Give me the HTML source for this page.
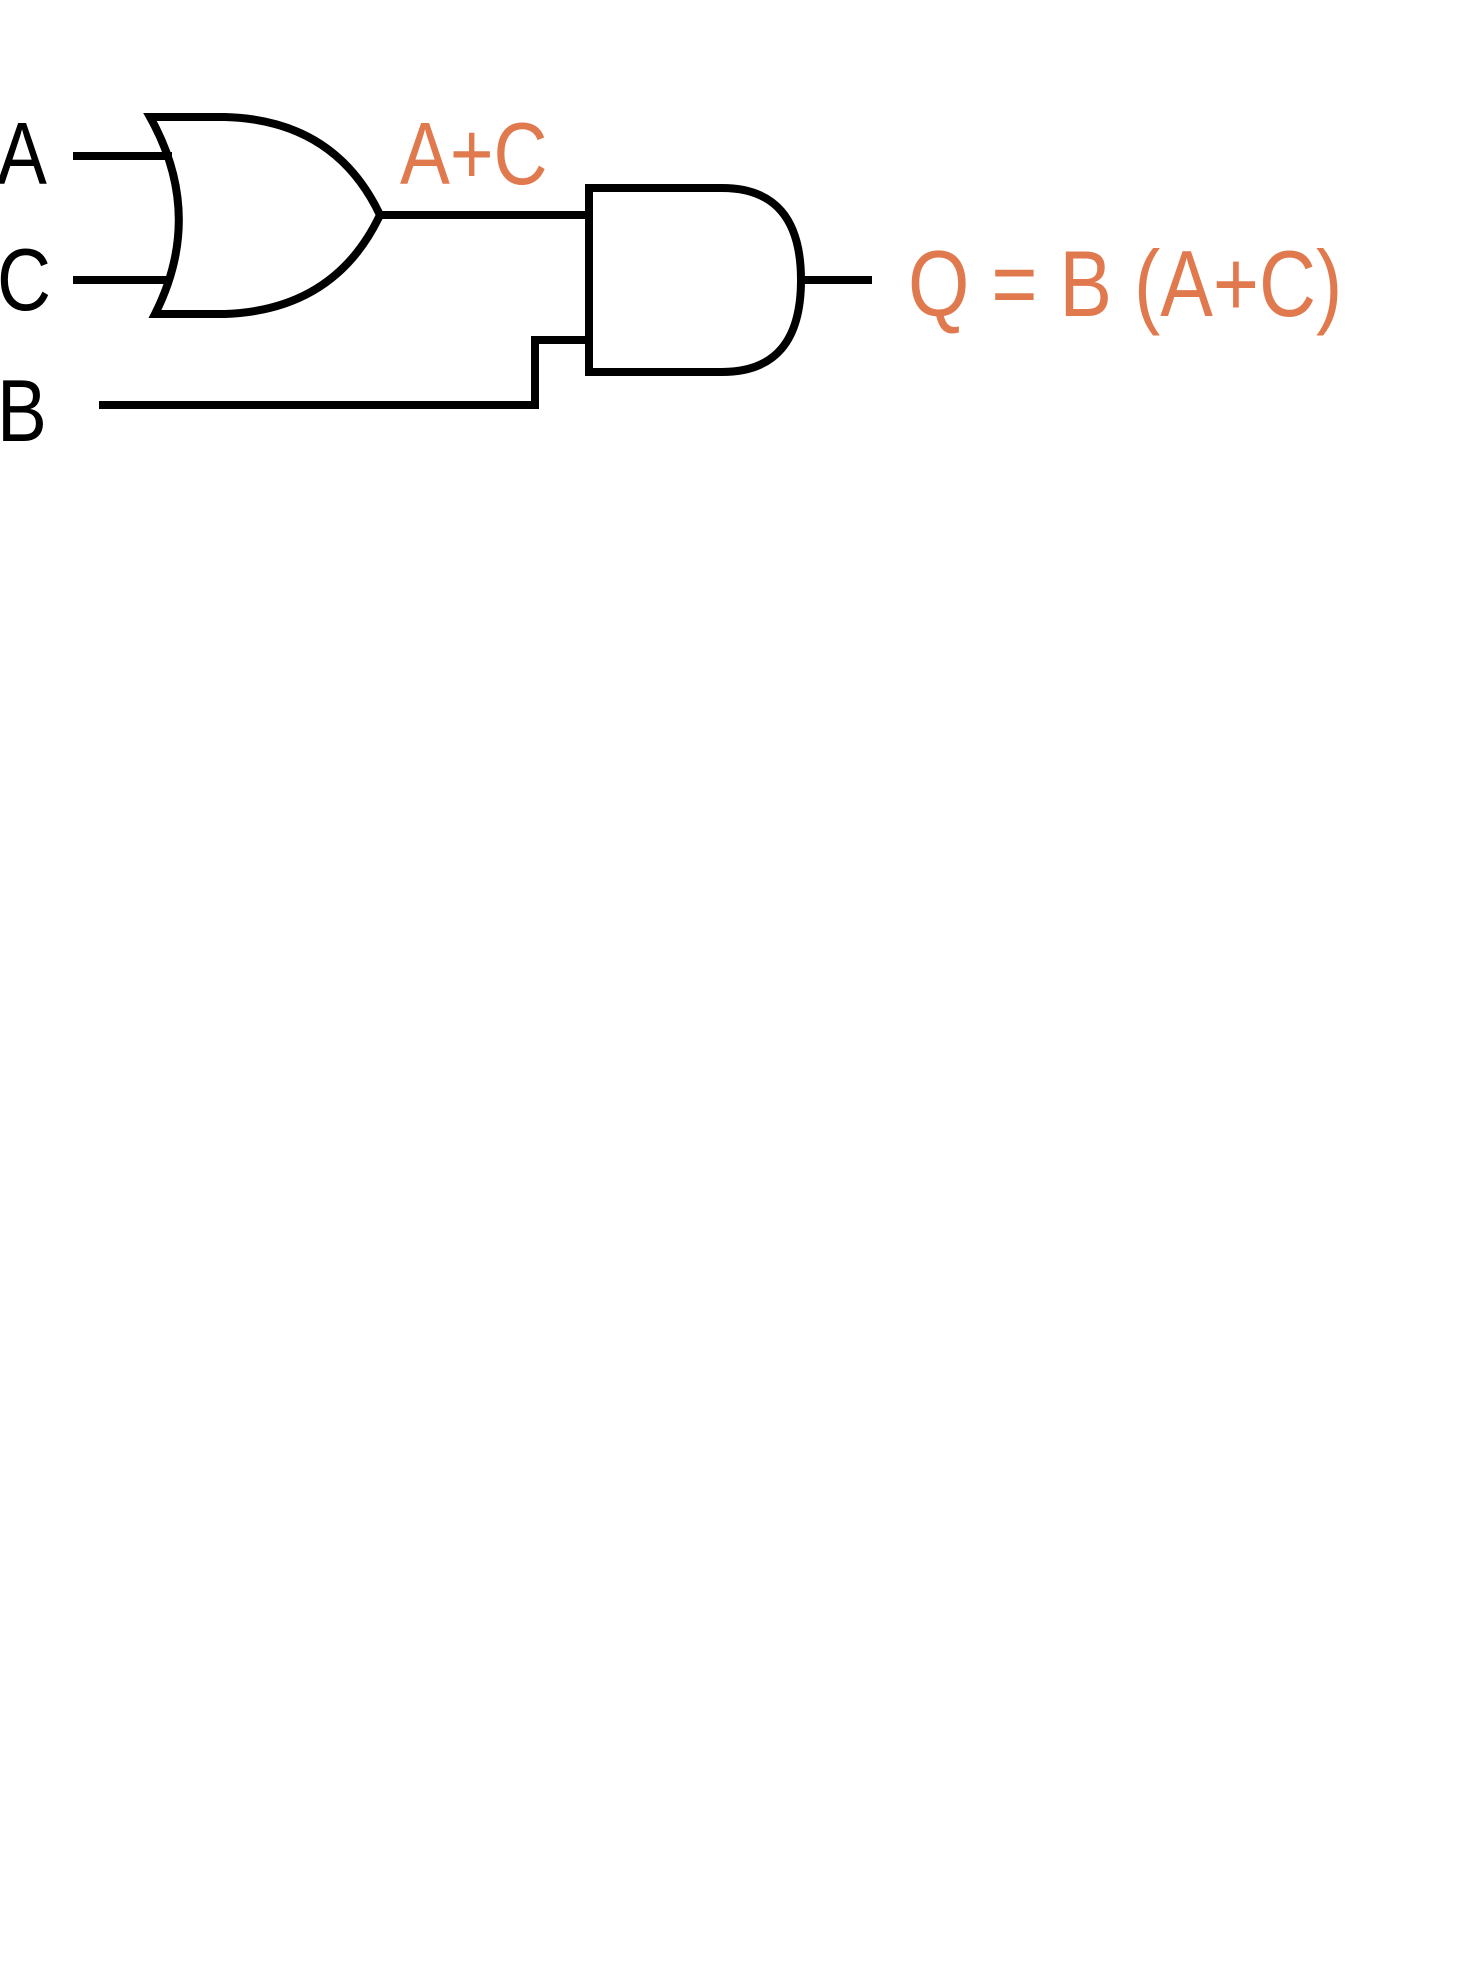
<!DOCTYPE html>
<html><head><style>body{margin:0;background:#fff}svg{display:block}</style></head>
<body>
<svg width="1470" height="1968" viewBox="0 0 1470 1968" xmlns="http://www.w3.org/2000/svg">
<g font-family="Liberation Sans, sans-serif" font-size="88">
<text transform="translate(-3 184) scale(0.85 1)" fill="#000">A</text>
<text transform="translate(-3 310) scale(0.85 1)" fill="#000">C</text>
<text transform="translate(-3 441) scale(0.85 1)" fill="#000">B</text>
<text transform="translate(400 184) scale(0.85 1)" fill="#e07a4e">A+C</text>
<text transform="translate(908 316) scale(0.84 1)" fill="#e07a4e" font-size="94">Q = B (A+C)</text>
</g>
<g fill="none" stroke="#000" stroke-width="8" stroke-linejoin="miter">
<path d="M73 156 H172 M73 280 H172"/>
<path d="M150 117 Q205 215 155 314 H225 Q335 310 380 215 Q335 120 225 117 Z"/>
<path d="M380 215 H589"/>
<path d="M99 405 H535 V340 H589"/>
<path d="M589 188 H722 Q801 188 801 280 Q801 372 722 372 H589 Z"/>
<path d="M801 280 H872"/>
</g>
</svg>
</body></html>
